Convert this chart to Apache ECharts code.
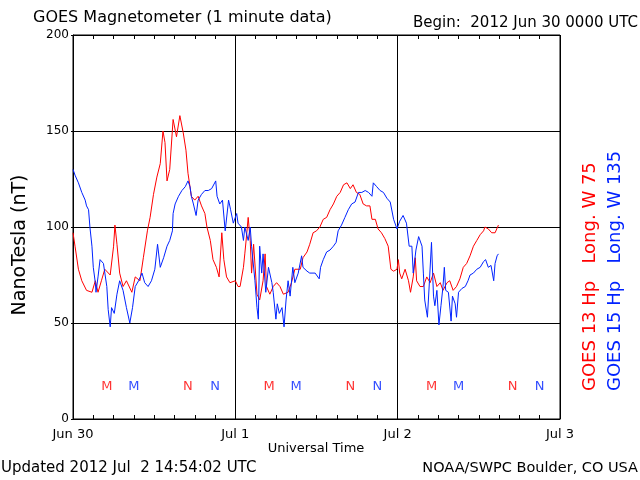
<!DOCTYPE html>
<html>
<head>
<meta charset="utf-8">
<script src="https://cdn.jsdelivr.net/npm/echarts@6/dist/echarts.min.js"></script>
<style>html,body{margin:0;padding:0;background:#fff;}#c{width:640px;height:480px;}</style>
</head>
<body>
<div id="c"></div>
<script>
// Hours since 2012 Jun 30 00:00 UTC
const xTickLabels = ['Jun 30', 'Jul 1', 'Jul 2', 'Jul 3'];
const yTicks = [0, 50, 100, 150, 200];

const redHours = [0.0,0.3,0.8,1.3,2.0,2.8,3.3,3.7,4.2,4.7,5.5,6.0,6.2,6.5,6.9,7.4,7.9,8.7,9.2,9.9,10.4,11.0,11.4,11.9,12.4,12.9,13.3,13.6,13.9,14.3,14.8,15.3,15.8,16.3,16.7,17.0,17.5,18.0,18.5,19.0,19.5,19.8,20.3,20.7,21.2,21.6,22.0,22.3,22.7,23.2,24.0,24.4,24.7,25.2,25.4,25.7,25.9,26.2,26.4,26.7,27.2,27.6,28.1,28.4,28.6,29.1,29.6,30.1,30.6,31.1,31.8,32.3,32.8,33.6,34.0,34.6,35.0,35.5,36.0,36.5,37.0,37.5,38.0,38.5,39.0,39.5,40.0,40.5,41.0,41.4,41.9,42.4,42.9,43.4,43.9,44.2,44.7,45.1,45.6,46.1,46.6,47.0,47.4,47.9,48.1,48.3,48.6,49.1,49.6,49.9,50.3,50.6,50.8,51.3,51.8,52.3,52.8,53.3,53.8,54.3,54.7,55.3,55.7,56.2,56.7,57.2,57.7,58.2,58.7,59.2,59.7,60.2,60.7,60.9,61.4,61.9,62.4,62.9];
const redValues = [97,90,78,72,67,66,72,66,72,78,75,90,101,91,76,69,72,66,74,72,84,98,105,117,126,133,150,144,124,130,156,147,158,149,140,128,116,114,116,111,107,100,93,83,79,74,97,83,74,71,72,69,69,79,86,97,105,93,76,91,65,62,72,86,69,65,69,71,69,65,66,71,78,78,84,87,91,97,98,100,104,105,109,112,116,118,122,123,120,122,118,117,112,111,111,104,104,99,97,94,90,78,77,78,83,76,73,78,72,66,74,84,72,69,69,74,71,76,69,71,67,71,72,67,69,73,79,81,85,90,93,96,98,100,99,97,97,101];

const blueHours = [0.0,0.3,0.8,1.3,1.8,2.0,2.3,2.5,2.8,3.0,3.3,3.4,3.7,4.0,4.5,5.0,5.2,5.5,5.7,6.1,6.5,6.9,7.4,7.9,8.4,8.8,9.2,9.7,10.2,10.6,11.1,11.6,12.1,12.5,12.9,13.4,13.9,14.3,14.7,14.8,15.1,15.6,16.1,16.6,17.0,17.3,17.5,17.8,18.2,18.5,19.0,19.5,20.0,20.5,21.1,21.3,21.7,22.1,22.5,23.0,23.3,23.7,24.2,24.4,24.9,25.2,25.4,25.9,26.2,26.4,26.9,27.2,27.4,27.6,27.9,28.1,28.5,28.9,29.4,29.6,30.0,30.2,30.5,30.9,31.2,31.5,31.8,32.1,32.5,32.8,33.3,33.8,34.0,34.6,35.0,35.8,36.4,36.6,37.0,37.5,38.0,38.5,38.9,39.2,39.7,40.2,40.7,41.2,41.7,42.2,42.7,43.2,43.7,44.2,44.4,44.9,45.4,45.9,46.4,46.9,47.4,47.9,48.3,48.8,49.3,49.7,50.1,50.3,50.7,51.1,51.6,51.8,52.0,52.4,52.7,53.0,53.3,53.5,53.8,54.1,54.4,54.7,54.9,55.1,55.5,55.9,56.1,56.5,56.7,57.0,57.5,58.0,58.4,58.7,59.2,59.7,60.2,60.7,61.0,61.4,61.8,62.2,62.4,62.7,62.9];
const blueValues = [130,127,123,118,114,111,109,100,90,79,71,66,74,83,81,69,57,48,58,55,65,72,67,58,50,58,69,72,76,71,69,72,78,91,79,84,90,93,98,107,112,116,119,121,124,121,116,112,106,114,117,119,119,120,124,116,112,114,98,114,109,102,107,102,100,93,100,93,100,90,72,58,52,90,76,86,66,79,71,66,52,60,55,58,48,62,72,64,79,71,76,85,79,77,76,76,73,79,83,87,88,90,92,98,101,105,109,112,113,118,118,119,118,116,123,121,119,118,115,113,104,99,103,106,102,90,90,76,88,95,90,76,62,53,72,92,64,59,67,49,59,69,79,67,66,51,64,60,53,66,68,69,72,75,76,78,79,82,83,79,80,72,81,85,86];

// Local midnight (M) / noon (N) markers, hours since Jun 30 00 UTC
const redMHours = [5, 29, 53];
const redNHours = [17, 41, 65];
const blueMHours = [9, 33, 57];
const blueNHours = [21, 45, 69];
const markerLevel = 17;

const RED = '#ff0000';
const BLUE = '#0022ff';
const FONT = 'DejaVu Sans';

function zip(h, v) { return h.map((x, i) => [x, v[i]]); }
function markers(hours, letter, color) {
  return {
    type: 'scatter', xAxisIndex: 0, yAxisIndex: 0, silent: true,
    symbolSize: 0,
    data: hours.map(h => [h, markerLevel]),
    label: { show: true, position: 'inside', formatter: letter, color: color, fontFamily: FONT, fontSize: 13 },
    z: 5
  };
}

const chart = echarts.init(document.getElementById('c'), null, { renderer: 'canvas' });
chart.setOption({
  animation: false,
  backgroundColor: '#fff',
  grid: { left: 73, right: 80, top: 35, bottom: 61, show: true, borderColor: '#000', borderWidth: 1, backgroundColor: 'transparent' },
  xAxis: [{
    type: 'value', min: 0, max: 72, interval: 24, position: 'bottom',
    axisLine: { show: true, lineStyle: { color: '#000', width: 1 } },
    axisTick: { show: true, inside: true, length: 4, lineStyle: { color: '#000' } },
    minorTick: { show: true, splitNumber: 8, length: 4, lineStyle: { color: '#000' } },
    splitLine: { show: true, lineStyle: { color: '#000', width: 1 } },
    axisLabel: { show: true, margin: 9, color: '#000', fontFamily: FONT, fontSize: 13,
      formatter: v => xTickLabels[Math.round(v / 24)] }
  }, {
    type: 'value', min: 0, max: 72, interval: 24, position: 'top',
    axisLine: { show: true, lineStyle: { color: '#000', width: 1 } },
    axisTick: { show: true, inside: true, length: 4, lineStyle: { color: '#000' } },
    minorTick: { show: true, splitNumber: 8, length: 4, lineStyle: { color: '#000' } },
    splitLine: { show: false },
    axisLabel: { show: false }
  }],
  yAxis: [{
    type: 'value', min: yTicks[0], max: yTicks[yTicks.length - 1], interval: 50,
    axisLine: { show: true, lineStyle: { color: '#000', width: 1 } },
    axisTick: { show: true, length: 2, lineStyle: { color: '#000' } },
    splitLine: { show: true, lineStyle: { color: '#000', width: 1 } },
    axisLabel: { show: true, margin: 4, color: '#000', fontFamily: FONT, fontSize: 12 }
  }],
  series: [
    { name: 'GOES 13 Hp', type: 'line', data: zip(redHours, redValues), showSymbol: false, symbol: 'none',
      lineStyle: { color: RED, width: 1 }, itemStyle: { color: RED }, z: 3 },
    { name: 'GOES 15 Hp', type: 'line', data: zip(blueHours, blueValues), showSymbol: false, symbol: 'none',
      lineStyle: { color: BLUE, width: 1 }, itemStyle: { color: BLUE }, z: 4 },
    markers(redMHours, 'M', RED), markers(blueMHours, 'M', BLUE),
    markers(redNHours, 'N', RED), markers(blueNHours, 'N', BLUE)
  ],
  graphic: [
    { type: 'text', x: 33, y: 18, style: { text: 'GOES Magnetometer (1 minute data)', fill: '#000', font: '16px "DejaVu Sans"', textVerticalAlign: 'middle' } },
    { type: 'text', x: 638, y: 23, style: { text: 'Begin:  2012 Jun 30 0000 UTC', fill: '#000', font: '15px "DejaVu Sans"', textAlign: 'right', textVerticalAlign: 'middle' } },
    { type: 'text', x: 316, y: 449, style: { text: 'Universal Time', fill: '#000', font: '13px "DejaVu Sans"', textAlign: 'center', textVerticalAlign: 'middle' } },
    { type: 'text', x: 1, y: 468, style: { text: 'Updated 2012 Jul  2 14:54:02 UTC', fill: '#000', font: '15px "DejaVu Sans"', textVerticalAlign: 'middle' } },
    { type: 'text', x: 638, y: 468, style: { text: 'NOAA/SWPC Boulder, CO USA', fill: '#000', font: '14.5px "DejaVu Sans"', textAlign: 'right', textVerticalAlign: 'middle' } },
    { type: 'text', x: 20, y: 245, rotation: Math.PI / 2, style: { text: 'NanoTesla (nT)', fill: '#000', font: '19px "DejaVu Sans"', textAlign: 'center', textVerticalAlign: 'middle' } },
    { type: 'text', x: 590, y: 391, rotation: Math.PI / 2, style: { text: 'GOES 13 Hp   Long. W 75', fill: RED, font: '18px "DejaVu Sans"', textAlign: 'left', textVerticalAlign: 'middle' } },
    { type: 'text', x: 615, y: 391, rotation: Math.PI / 2, style: { text: 'GOES 15 Hp   Long. W 135', fill: BLUE, font: '18px "DejaVu Sans"', textAlign: 'left', textVerticalAlign: 'middle' } }
  ]
});
</script>
</body>
</html>
